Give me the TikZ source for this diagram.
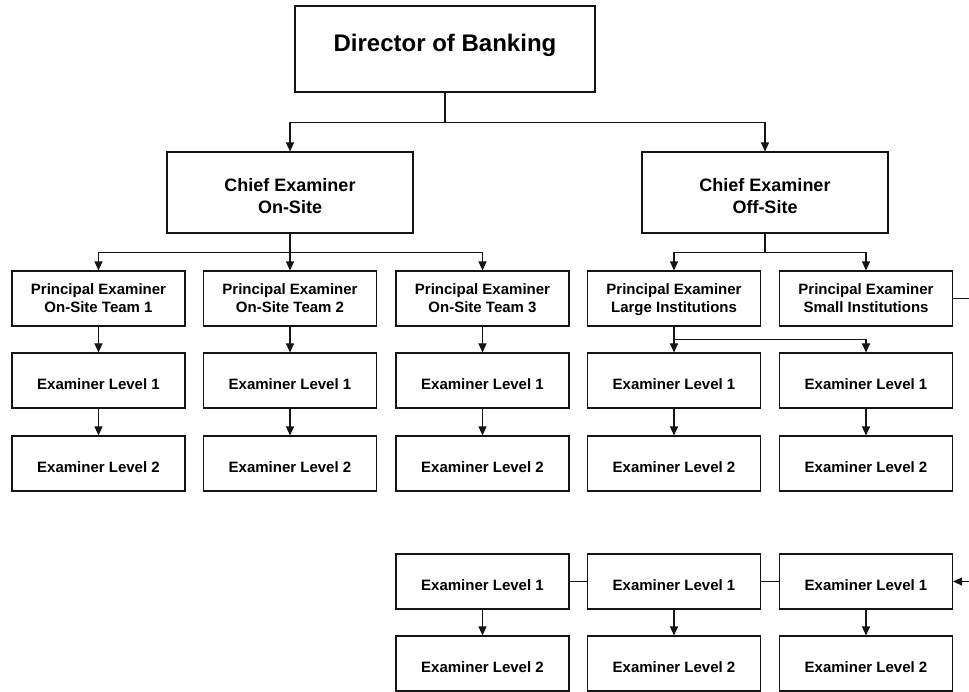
\documentclass[tikz,border=0pt]{standalone}
\usepackage{fontspec}
\setmainfont{Liberation Sans}
\usepackage{tikz}
\usetikzlibrary{arrows.meta}
\definecolor{boxline}{RGB}{20, 20, 20}
\tikzset{
  box/.style={draw=boxline, line width=1.1pt, minimum width=173pt, minimum height=55pt,
    inner sep=2pt, align=center, text height=18pt, text depth=0pt,
    font=\fontsize{15}{18}\selectfont\bfseries},
  princ/.style={box, text height=, text depth=0pt},
  chief/.style={box, minimum width=246pt, minimum height=81pt, text height=42pt, text depth=0pt,
    font=\fontsize{18}{22}\selectfont\bfseries},
  link/.style={draw=boxline, line width=1.1pt},
  arr/.style={link, -{Triangle[length=9pt, width=8pt]}}
}

\begin{document}
\begin{tikzpicture}[x=1pt, y=-1pt]
  \useasboundingbox (0,0) rectangle (969,692);
  % row heights
  \def\yp{298.5}   \def\ya{380.5}   \def\yb{463.5}
  \def\yc{581.5}   \def\yd{663.5}
  % director and chiefs
  \node[box, minimum width=300pt, minimum height=86pt, text height=, text depth=12pt,
    font=\fontsize{24}{28}\selectfont\bfseries] (dir) at (445,49) {Director of Banking};
  \node[chief] (on)  at (290,192.5) {Chief Examiner\\On-Site};
  \node[chief] (off) at (765,192.5) {Chief Examiner\\Off-Site};
  % principal examiners
  \node[princ] (p1) at (98.5,\yp)  {Principal Examiner\\On-Site Team 1};
  \node[princ] (p2) at (290,\yp)   {Principal Examiner\\On-Site Team 2};
  \node[princ] (p3) at (482.5,\yp) {Principal Examiner\\On-Site Team 3};
  \node[princ] (pl) at (674,\yp)   {Principal Examiner\\Large Institutions};
  \node[princ] (ps) at (866,\yp)   {Principal Examiner\\Small Institutions};
  % examiners, upper block
  \node[box] (a1) at (98.5,\ya)  {Examiner Level 1};
  \node[box] (a2) at (290,\ya)   {Examiner Level 1};
  \node[box] (a3) at (482.5,\ya) {Examiner Level 1};
  \node[box] (a4) at (674,\ya)   {Examiner Level 1};
  \node[box] (a5) at (866,\ya)   {Examiner Level 1};
  \node[box] (b1) at (98.5,\yb)  {Examiner Level 2};
  \node[box] (b2) at (290,\yb)   {Examiner Level 2};
  \node[box] (b3) at (482.5,\yb) {Examiner Level 2};
  \node[box] (b4) at (674,\yb)   {Examiner Level 2};
  \node[box] (b5) at (866,\yb)   {Examiner Level 2};
  % examiners, lower block
  \node[box] (c1) at (482.5,\yc) {Examiner Level 1};
  \node[box] (c2) at (674,\yc)   {Examiner Level 1};
  \node[box] (c3) at (866,\yc)   {Examiner Level 1};
  \node[box] (d1) at (482.5,\yd) {Examiner Level 2};
  \node[box] (d2) at (674,\yd)   {Examiner Level 2};
  \node[box] (d3) at (866,\yd)   {Examiner Level 2};
  % director -> chiefs
  \draw[link] (dir.south) -- ++(0,30) coordinate (j0);
  \draw[arr] (j0) -| (on.north);
  \draw[arr] (j0) -| (off.north);
  % on-site chief -> teams
  \draw[link] (on.south) -- ++(0,19) coordinate (j1);
  \draw[arr] (j1) -| (p1.north);
  \draw[arr] (j1) -- (p2.north);
  \draw[arr] (j1) -| (p3.north);
  % off-site chief -> institutions
  \draw[link] (off.south) -- ++(0,19) coordinate (j2);
  \draw[arr] (j2) -| (pl.north);
  \draw[arr] (j2) -| (ps.north);
  % large institutions -> two examiners
  \draw[link] (pl.south) -- ++(0,13) coordinate (j3);
  \draw[arr] (j3) -- (a4.north);
  \draw[arr] (j3) -| (a5.north);
  % teams -> examiners
  \draw[arr] (p1) -- (a1);
  \draw[arr] (p2) -- (a2);
  \draw[arr] (p3) -- (a3);
  % level 1 -> level 2
  \draw[arr] (a1) -- (b1);
  \draw[arr] (a2) -- (b2);
  \draw[arr] (a3) -- (b3);
  \draw[arr] (a4) -- (b4);
  \draw[arr] (a5) -- (b5);
  \draw[arr] (c1) -- (d1);
  \draw[arr] (c2) -- (d2);
  \draw[arr] (c3) -- (d3);
  % small institutions -> lower block (runs past the page edge)
  \draw[link] (c1.east) -- (c2.west);
  \draw[link] (c2.east) -- (c3.west);
  \draw[arr] (ps.east) -- ++(30,0) |- (c3.east);
\end{tikzpicture}
\end{document}
